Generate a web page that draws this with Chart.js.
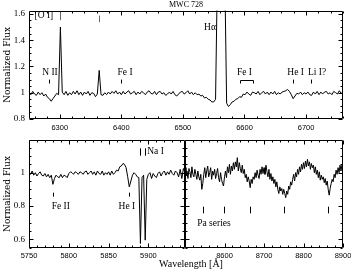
<!DOCTYPE html>
<html>
<head>
<meta charset="utf-8">
<script src="https://cdn.jsdelivr.net/npm/chart.js@4"></script>
<style>
  html, body { margin: 0; padding: 0; background: #fff; }
  #wrap { position: relative; width: 351px; height: 270px; }
  #wrap canvas { position: absolute; left: 0; top: 0; }
</style>
</head>
<body>
<div id="wrap">
  <canvas id="topPanel" width="351" height="270"></canvas>
  <canvas id="naPanel" width="351" height="270"></canvas>
  <canvas id="paPanel" width="351" height="270"></canvas>
</div>
<script>
// MWC 728 normalized spectrum
// wavelength grid of each panel: start + i * step (Angstrom)
var topStart = 6250, topStep = 3;
var topFlux = [
  1.005, 0.985, 1.01, 0.99, 0.98, 1.005, 0.985, 1.0, 0.975, 0.99,
  0.965, 0.955, 0.935, 0.955, 0.975, 0.995, 0.985, 1.5, 1.005, 0.985,
  1.01, 0.98, 1.0, 0.985, 1.01, 0.99, 1.015, 0.985, 1.005, 0.98,
  1.005, 0.99, 1.01, 0.98, 1.0, 0.995, 0.97, 0.99, 1.17, 0.985,
  0.98, 1.0, 0.985, 1.005, 0.99, 1.01, 0.995, 1.015, 0.99, 1.005,
  0.985, 1.01, 0.99, 1.005, 1.015, 0.99, 1.0, 1.01, 0.985, 1.005,
  0.99, 1.01, 1.0, 0.985, 1.005, 1.015, 0.995, 0.99, 1.01, 0.985,
  1.005, 1.01, 0.99, 1.0, 0.98, 0.99, 1.005, 0.99, 1.01, 0.985,
  0.975, 0.99, 1.005, 1.01, 0.99, 1.0, 1.015, 0.99, 1.005, 0.985,
  1.0, 0.985, 0.99, 0.975, 0.98, 0.96, 0.965, 0.95, 0.945, 0.93,
  0.93, 0.95, 1.9, 3.0, 3.2, 3.0, 1.9, 0.92, 0.895, 0.91,
  0.93, 0.935, 0.95, 0.955, 0.97, 0.965, 0.99, 0.985, 1.005, 0.99,
  0.98, 1.005, 1.0, 0.99, 1.01, 0.985, 1.0, 1.01, 0.99, 1.005,
  0.985, 1.005, 0.99, 1.01, 0.985, 1.0, 0.99, 1.005, 1.01, 1.015,
  1.025, 1.01, 0.985, 0.955, 0.975, 0.995, 0.99, 1.005, 0.985, 1.0,
  0.99, 1.005, 0.985, 0.98, 1.005, 0.99, 1.01, 0.985, 1.005, 0.99,
  1.005, 1.01, 0.99, 1.0, 0.985, 1.01, 1.0, 0.99, 1.015, 0.995,
  1.005
];

var naStart = 5750, naStep = 2;
var naFlux = [
  1.005, 0.99, 1.01, 0.985, 1.0, 0.98, 0.995, 1.005, 0.985, 0.98,
  0.995, 0.975, 0.99, 0.97, 0.985, 0.93, 0.965, 0.985, 0.975, 0.97,
  0.99, 0.97, 0.985, 0.98, 0.97, 0.995, 1.005, 1.0, 0.99, 1.005,
  1.0, 0.99, 1.005, 1.0, 0.99, 1.005, 1.01, 0.99, 1.0, 1.01,
  0.99, 1.005, 0.985, 1.01, 0.995, 0.99, 1.01, 0.985, 1.0, 0.99,
  1.005, 0.985, 1.01, 0.99, 1.0, 1.015, 1.01, 1.035, 1.04, 1.055,
  1.05, 1.03, 0.975, 0.915, 0.95, 0.985, 1.0, 0.99, 0.975, 0.97,
  0.575, 0.97, 0.985, 0.595, 0.96, 0.99, 1.0, 0.965, 0.995, 0.98,
  0.97, 0.995, 1.005, 0.98, 1.0, 1.01, 0.985, 1.005, 0.99, 1.015,
  0.995, 0.985, 1.01, 1.0, 0.975, 1.02, 0.965, 1.025, 1.0
];

var paStart = 8500, paStep = 2.5;
var paFlux = [
  1.03, 0.98, 1.01, 0.965, 1.025, 1.005, 0.97, 1.035, 0.99, 0.975,
  1.02, 0.99, 0.96, 1.01, 0.975, 0.955, 0.99, 0.9, 0.935, 0.99,
  1.03, 0.97, 1.01, 1.04, 0.975, 1.0, 1.03, 0.96, 1.01, 0.985,
  1.02, 0.965, 0.995, 1.025, 0.97, 0.945, 1.0, 0.96, 0.935, 0.92,
  0.975, 1.01, 0.97, 1.035, 1.0, 1.05, 0.99, 1.04, 1.01, 1.06,
  1.02, 1.065, 1.035, 1.09, 1.01, 1.06, 1.025, 1.0, 1.045, 0.995,
  1.02, 0.97, 0.99, 0.945, 0.975, 0.95, 0.91, 0.96, 0.935, 0.975,
  0.96, 1.0, 0.97, 1.015, 0.985, 0.965, 1.02, 0.99, 1.035, 0.995,
  1.03, 0.99, 1.045, 1.005, 0.975, 1.02, 0.96, 0.995, 0.95, 0.975,
  0.935, 0.96, 0.915, 0.945, 0.9, 0.875, 0.915, 0.89, 0.905, 0.87,
  0.9, 0.875, 0.85, 0.89, 0.87, 0.92, 0.9, 0.945, 0.925, 0.96,
  0.99, 0.95, 1.0, 0.975, 1.02, 0.99, 1.035, 1.005, 1.05, 1.02,
  1.06, 1.025, 1.07, 1.035, 1.08, 1.04, 1.065, 1.02, 1.055, 1.03,
  1.045, 1.0, 1.035, 0.99, 1.015, 0.97, 1.005, 0.955, 0.985, 0.96,
  0.975, 0.94, 0.965, 0.925, 0.95, 0.9, 0.865, 0.905, 0.935, 0.96,
  0.945, 0.99, 0.97, 1.015, 0.99, 1.03, 1.0, 1.045, 1.01, 1.05,
  1.03
];

// tick labels
var topXTicks = [6300, 6400, 6500, 6600, 6700];
var topYTicks = [0.8, 1, 1.2, 1.4, 1.6];
var naXTicks = [5750, 5800, 5850, 5900];
var paXTicks = [8600, 8700, 8800, 8900];
var lowYTicks = [0.6, 0.8, 1];

// line identifications
var paLines = [8545, 8598, 8665, 8750, 8863];

var serif = '"Liberation Serif", "DejaVu Serif", serif';
var sans = '"Liberation Sans", Arial, sans-serif';

function spectrum(start, step, flux) {
  return flux.map(function (f, i) { return { x: start + i * step, y: f }; });
}

function xAxis(min, max, ticks, h, pad) {
  return {
    type: 'linear', min: min, max: max,
    afterBuildTicks: function (s) { s.ticks = ticks.map(function (v) { return { value: v }; }); },
    afterFit: function (s) { s.height = h; s.paddingLeft = 0; s.paddingRight = 0; },
    grid: { display: false, drawTicks: false },
    border: { display: false },
    ticks: {
      padding: pad, maxRotation: 0, autoSkip: false, color: '#000',
      font: { family: sans, size: 7.5 },
      callback: function (v) { return String(v); }
    }
  };
}

function yAxis(min, max, ticks, w, show) {
  return {
    type: 'linear', min: min, max: max, display: show,
    afterBuildTicks: function (s) { s.ticks = ticks.map(function (v) { return { value: v }; }); },
    afterFit: function (s) { s.width = w; s.paddingTop = 0; s.paddingBottom = 0; },
    grid: { display: false, drawTicks: false },
    border: { display: false },
    ticks: {
      padding: 4, autoSkip: false, color: '#000',
      font: { family: serif, size: 9 },
      callback: function (v) { return String(v); }
    },
    title: {
      display: true, text: 'Normalized Flux', color: '#000',
      font: { family: '"DejaVu Serif", serif', size: 9 },
      padding: { top: 2, bottom: 0 }
    }
  };
}

// box round the plot with inward ticks on every side
function frame(xMinor, xEvery, yMinor, yEvery) {
  return {
    id: 'frame',
    afterDatasetsDraw: function (chart) {
      var ctx = chart.ctx, a = chart.chartArea, xs = chart.scales.x, ys = chart.scales.y;
      var L = Math.round(a.left) + 0.5, R = Math.round(a.right) - 0.5;
      var T = Math.round(a.top) + 0.5, B = Math.round(a.bottom) - 0.5;
      var i, p, len;
      ctx.save();
      ctx.strokeStyle = '#000';
      ctx.lineWidth = 1;
      ctx.beginPath();
      ctx.rect(L, T, R - L, B - T);
      for (i = Math.ceil(xs.min / xMinor - 1e-9); i * xMinor <= xs.max + 1e-9; i++) {
        len = (i % xEvery === 0) ? 4 : 2;
        p = Math.round(xs.getPixelForValue(i * xMinor)) + 0.5;
        ctx.moveTo(p, B); ctx.lineTo(p, B - len);
        ctx.moveTo(p, T); ctx.lineTo(p, T + len);
      }
      for (i = Math.ceil(ys.min / yMinor - 1e-9); i * yMinor <= ys.max + 1e-9; i++) {
        len = (i % yEvery === 0) ? 4 : 2;
        p = Math.round(ys.getPixelForValue(i * yMinor)) + 0.5;
        ctx.moveTo(L, p); ctx.lineTo(L + len, p);
        ctx.moveTo(R, p); ctx.lineTo(R - len, p);
      }
      ctx.stroke();
      ctx.restore();
    }
  };
}

// labels and identification marks, placed in data coordinates
function notes(texts, marks, brackets, extra) {
  return {
    id: 'notes',
    afterDatasetsDraw: function (chart) {
      var ctx = chart.ctx, xs = chart.scales.x, ys = chart.scales.y;
      ctx.save();
      ctx.fillStyle = '#000';
      ctx.textBaseline = 'middle';
      ctx.font = '9.5px ' + serif;
      texts.forEach(function (t) {
        ctx.textAlign = t.align || 'center';
        ctx.fillText(t.text, xs.getPixelForValue(t.x), ys.getPixelForValue(t.y));
      });
      ctx.lineWidth = 1;
      marks.forEach(function (m) {
        var px = Math.round(xs.getPixelForValue(m.x)) + 0.5;
        ctx.strokeStyle = m.color || '#000';
        ctx.beginPath();
        ctx.moveTo(px, ys.getPixelForValue(m.y0));
        ctx.lineTo(px, ys.getPixelForValue(m.y1));
        ctx.stroke();
      });
      ctx.strokeStyle = '#000';
      brackets.forEach(function (b) {
        var x0 = Math.round(xs.getPixelForValue(b.x0)) + 0.5;
        var x1 = Math.round(xs.getPixelForValue(b.x1)) + 0.5;
        var yt = Math.round(ys.getPixelForValue(b.y0)) + 0.5;
        var yb = ys.getPixelForValue(b.y1);
        ctx.beginPath();
        ctx.moveTo(x0, yb); ctx.lineTo(x0, yt); ctx.lineTo(x1, yt); ctx.lineTo(x1, yb);
        ctx.stroke();
      });
      if (extra) extra(chart, ctx);
      ctx.restore();
    }
  };
}

function lineDataset(data) {
  return {
    data: data, borderColor: '#000', borderWidth: 1,
    pointRadius: 0, tension: 0, fill: false
  };
}

function baseOptions(padding, xScale, yScale, title) {
  return {
    responsive: false, animation: false, devicePixelRatio: 1, events: [],
    layout: { padding: padding },
    plugins: {
      legend: { display: false },
      tooltip: { enabled: false },
      title: title || { display: false }
    },
    scales: { x: xScale, y: yScale }
  };
}

// top panel: 6250 - 6760 A
new Chart(document.getElementById('topPanel'), {
  type: 'line',
  data: { datasets: [lineDataset(spectrum(topStart, topStep, topFlux))] },
  options: baseOptions(
    { left: 0, top: 0, right: 8, bottom: 135 },
    xAxis(6250, 6760, topXTicks, 16, 4),
    yAxis(0.8, 1.625, topYTicks, 29, true),
    {
      display: true, text: 'MWC 728', fullSize: false, color: '#000',
      font: { family: serif, size: 8, weight: 'normal' },
      padding: { top: 0, bottom: 1 }
    }
  ),
  plugins: [
    frame(20, 5, 0.05, 4),
    notes(
      [
        { text: '[O I]', x: 6259, y: 1.59, align: 'left' },
        { text: 'N II', x: 6284, y: 1.157 },
        { text: 'Fe I', x: 6406, y: 1.157 },
        { text: 'H\u03b1', x: 6544, y: 1.494 },
        { text: 'Fe I', x: 6600, y: 1.157 },
        { text: 'He I', x: 6683, y: 1.157 },
        { text: 'Li I?', x: 6718, y: 1.157 }
      ],
      [
        { x: 6300, y0: 1.613, y1: 1.552, color: '#666' },
        { x: 6364, y0: 1.587, y1: 1.537, color: '#666' },
        { x: 6283, y0: 1.10, y1: 1.07 },
        { x: 6400, y0: 1.10, y1: 1.07 },
        { x: 6679, y0: 1.10, y1: 1.07 },
        { x: 6708, y0: 1.10, y1: 1.07 }
      ],
      [{ x0: 6593, x1: 6614, y0: 1.095, y1: 1.07 }]
    )
  ]
});

// lower left panel: Na I D region
new Chart(document.getElementById('naPanel'), {
  type: 'line',
  data: { datasets: [lineDataset(spectrum(naStart, naStep, naFlux))] },
  options: baseOptions(
    { left: 0, top: 140, right: 166, bottom: 0 },
    xAxis(5750, 5946, naXTicks, 22, 3),
    yAxis(0.548, 1.196, lowYTicks, 29, true)
  ),
  plugins: [
    frame(10, 5, 0.05, 4),
    notes(
      [
        { text: 'Na I', x: 5898.5, y: 1.126, align: 'left' },
        { text: 'Fe II', x: 5790, y: 0.80 },
        { text: 'He I', x: 5873, y: 0.80 }
      ],
      [
        { x: 5890, y0: 1.146, y1: 1.102 },
        { x: 5896, y0: 1.146, y1: 1.102 },
        { x: 5780, y0: 0.88, y1: 0.856 },
        { x: 5876, y0: 0.88, y1: 0.856 }
      ],
      [],
      function (chart, ctx) {
        ctx.font = '10px ' + serif;
        ctx.textAlign = 'center';
        ctx.fillText('Wavelength [\u00c5]', chart.chartArea.right + 6, 264);
      }
    )
  ]
});

// lower right panel: Paschen series region
new Chart(document.getElementById('paPanel'), {
  type: 'line',
  data: { datasets: [lineDataset(spectrum(paStart, paStep, paFlux))] },
  options: baseOptions(
    { left: 185, top: 140, right: 8, bottom: 0 },
    xAxis(8500, 8900, paXTicks, 22, 3),
    yAxis(0.548, 1.196, lowYTicks, 0, false)
  ),
  plugins: [
    frame(20, 5, 0.05, 4),
    notes(
      [{ text: 'Pa series', x: 8531, y: 0.696, align: 'left' }],
      paLines.map(function (w) { return { x: w, y0: 0.796, y1: 0.756 }; }),
      []
    )
  ]
});
</script>
</body>
</html>
